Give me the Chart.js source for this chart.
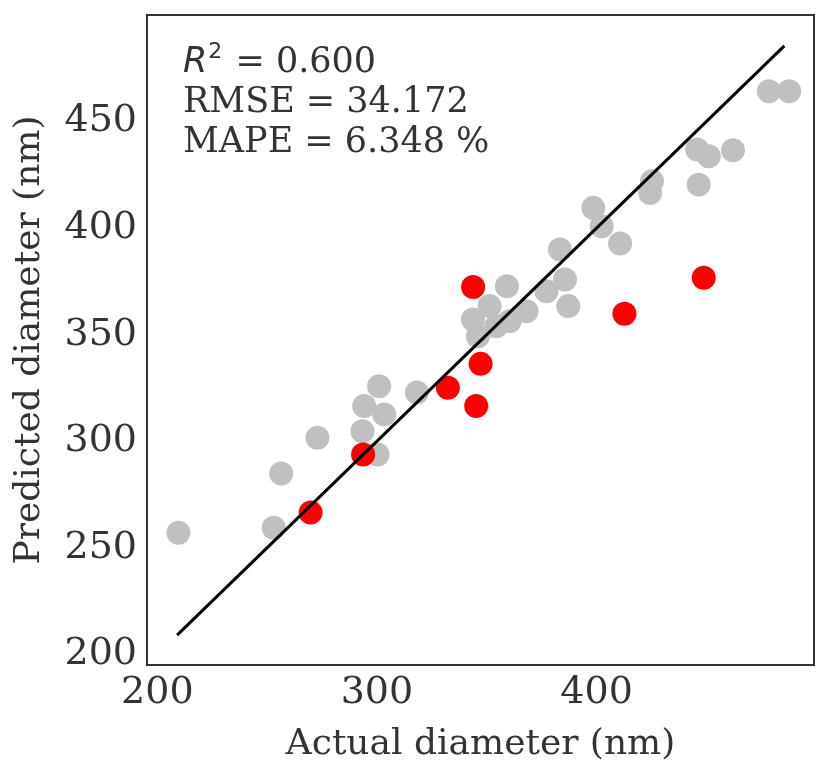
<!DOCTYPE html>
<html>
<head>
<meta charset="utf-8">
<script src="https://cdn.jsdelivr.net/npm/chart.js@4.4.0/dist/chart.umd.min.js"></script>
<style>
  html, body { margin: 0; padding: 0; background: #fff; }
</style>
</head>
<body>
<canvas id="parity" width="830" height="775"></canvas>
<script>
// training points (gray): actual vs predicted diameter, nm
const grayActual    = [209.6, 253.0, 256.4, 272.9, 293.4, 294.2, 303.3, 301.0, 300.3, 318.2,
                       343.7, 346.0, 351.3, 359.2, 360.4, 368.1, 377.2, 385.6, 387.1, 383.3,
                       398.5, 402.3, 410.7, 424.4, 425.2, 445.8, 451.1, 462.1, 446.5, 478.5,
                       487.7, 354.3];
const grayPredicted = [257.1, 259.4, 284.9, 301.6, 304.7, 316.5, 312.6, 325.8, 293.8, 322.9,
                       357.1, 349.3, 363.4, 372.7, 356.3, 361.0, 370.4, 375.9, 363.4, 390.0,
                       409.5, 400.9, 392.8, 416.5, 422.0, 436.9, 433.7, 436.5, 420.4, 464.2,
                       464.2, 354.0];
// test points (red)
const redActual    = [269.8, 293.7, 332.3, 345.2, 347.2, 343.8, 412.7, 448.8];
const redPredicted = [266.5, 293.8, 325.1, 316.5, 336.3, 372.4, 359.8, 376.7];
// y = x reference line ends
const lineEnds = [209, 485.5];
// axis limits and ticks
const xMin = 195.3, xMax = 499;
const yMin = 195.0, yMax = 500;
const xTicks = [200, 300, 400];
const yTicks = [200, 250, 300, 350, 400, 450];
// stats text
const statText = ['= 0.600', 'RMSE = 34.172', 'MAPE = 6.348 %'];

const textColor = '#333333';
const serif = "'DejaVu Serif', serif";

function toPoints(xs, ys) {
    return xs.map((x, i) => ({ x: x, y: ys[i] }));
}

// frame around the plot and the stats text
const frameAndStats = {
    id: 'frameAndStats',
    afterDatasetsDraw(chart) {
        const ctx = chart.ctx;
        const a = chart.chartArea;
        ctx.save();
        ctx.strokeStyle = '#333333';
        ctx.lineWidth = 2;
        ctx.strokeRect(a.left, a.top, a.right - a.left, a.bottom - a.top);

        ctx.fillStyle = textColor;
        ctx.textBaseline = 'alphabetic';
        ctx.textAlign = 'left';
        var x0 = a.left + 36;
        // R^2 line
        ctx.font = "italic 35px 'DejaVu Sans'";
        ctx.fillText('R', x0, a.top + 57);
        var w = ctx.measureText('R').width;
        ctx.font = "22px 'DejaVu Sans'";
        ctx.fillText('2', x0 + w + 1, a.top + 43);
        var w2 = ctx.measureText('2').width;
        ctx.font = '35px ' + serif;
        ctx.fillText(' ' + statText[0], x0 + w + w2 + 3, a.top + 57);
        ctx.fillText(statText[1], x0, a.top + 97);
        ctx.fillText(statText[2], x0, a.top + 137);
        ctx.restore();
    }
};

const ctx = document.getElementById('parity').getContext('2d');
const chart = new Chart(ctx, {
    type: 'scatter',
    data: {
        datasets: [
            {
                label: 'y = x',
                data: toPoints(lineEnds, lineEnds),
                showLine: true,
                borderColor: '#000000',
                borderWidth: 3,
                pointRadius: 0,
                order: 0
            },
            {
                label: 'test',
                data: toPoints(redActual, redPredicted),
                backgroundColor: '#ff0000',
                borderWidth: 0,
                pointRadius: 12,
                order: 1
            },
            {
                label: 'train',
                data: toPoints(grayActual, grayPredicted),
                backgroundColor: '#c0c0c0',
                borderWidth: 0,
                pointRadius: 12,
                order: 2
            }
        ]
    },
    options: {
        responsive: false,
        animation: false,
        layout: { padding: { left: 0, right: 16, top: 15, bottom: 0 } },
        plugins: {
            legend: { display: false },
            tooltip: { enabled: false }
        },
        scales: {
            x: {
                type: 'linear',
                min: xMin,
                max: xMax,
                afterBuildTicks: s => { s.ticks = xTicks.map(v => ({ value: v })); },
                afterFit: s => { s.height = 110; s.paddingLeft = 0; s.paddingRight = 0; },
                grid: { display: false, drawTicks: false },
                border: { display: false },
                ticks: {
                    font: { family: serif, size: 38 },
                    color: textColor,
                    padding: 5,
                    maxRotation: 0,
                    autoSkip: false
                },
                title: {
                    display: true,
                    text: 'Actual diameter (nm)',
                    font: { family: serif, size: 36 },
                    color: textColor,
                    padding: { top: 0, bottom: 9 }
                }
            },
            y: {
                type: 'linear',
                min: yMin,
                max: yMax,
                afterBuildTicks: s => { s.ticks = yTicks.map(v => ({ value: v })); },
                afterFit: s => { s.width = 147; s.paddingTop = 0; s.paddingBottom = 0; },
                grid: { display: false, drawTicks: false },
                border: { display: false },
                ticks: {
                    font: { family: serif, size: 38 },
                    color: textColor,
                    padding: 10,
                    autoSkip: false
                },
                title: {
                    display: true,
                    text: 'Predicted diameter (nm)',
                    font: { family: serif, size: 36 },
                    color: textColor,
                    padding: { top: 8, bottom: 0 }
                }
            }
        }
    },
    plugins: [frameAndStats]
});
</script>
</body>
</html>
